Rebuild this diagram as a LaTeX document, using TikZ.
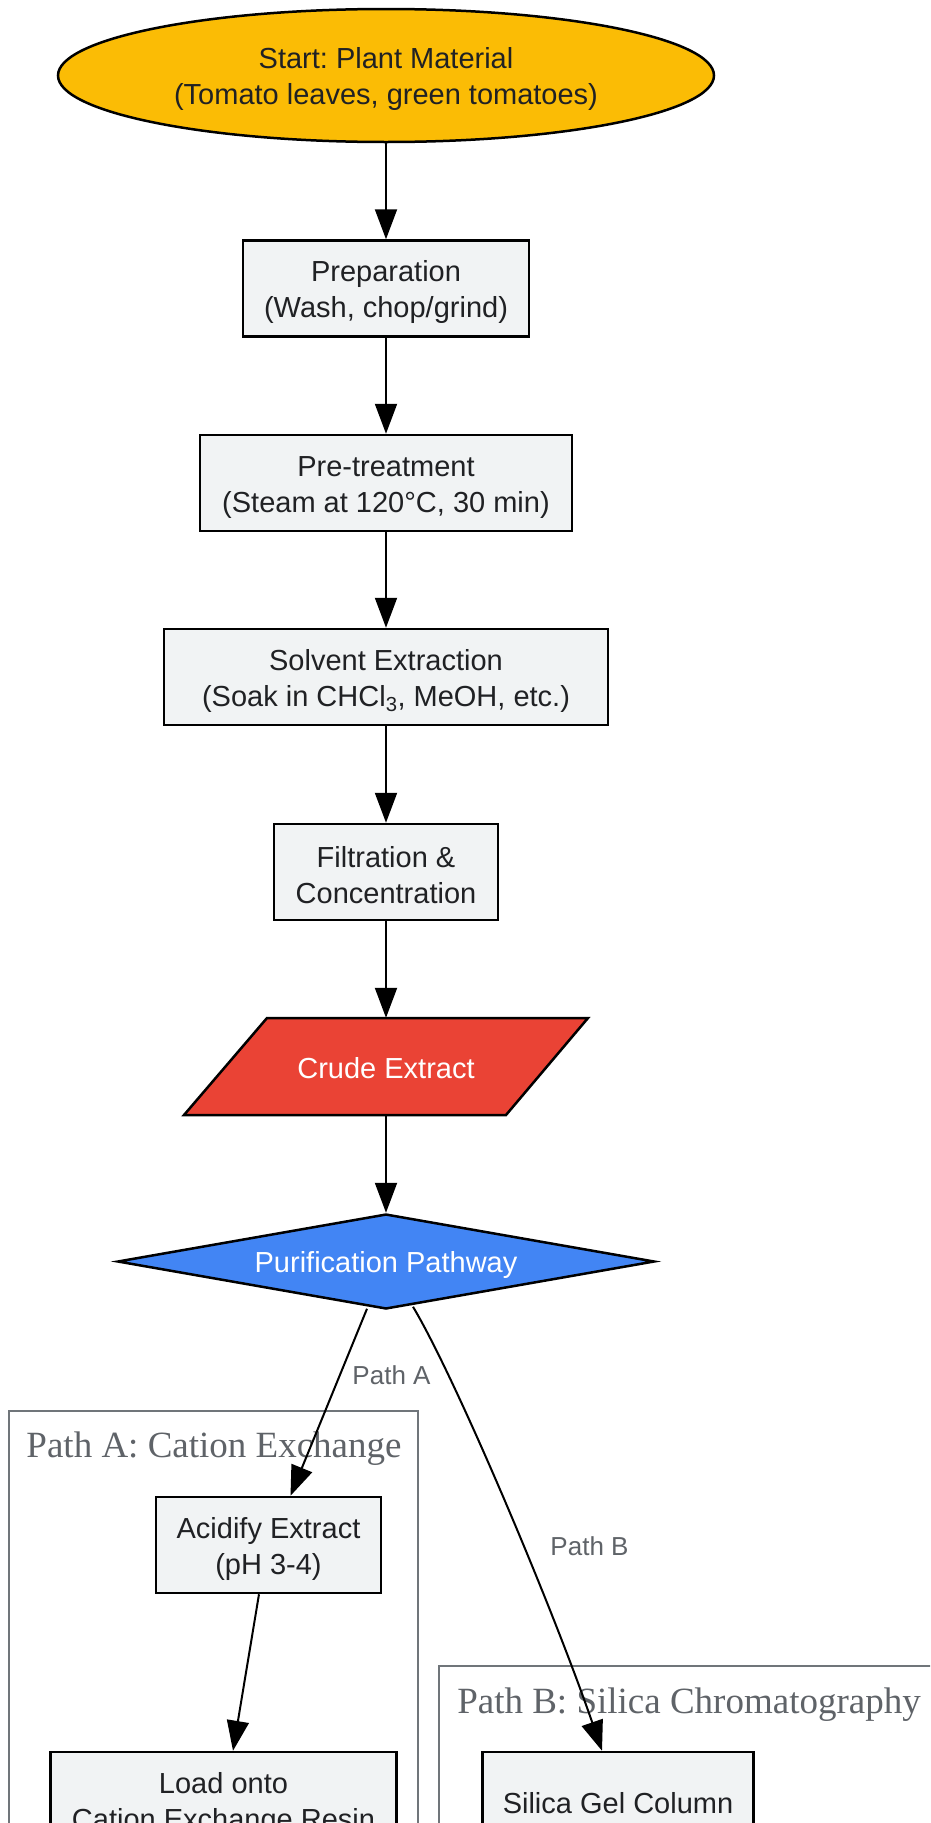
\documentclass[tikz,border=0pt]{standalone}
\usepackage{fontspec}
\setmainfont{Liberation Sans}
\newfontfamily\serifA{Liberation Serif}
\usetikzlibrary{shapes.geometric,arrows.meta,calc}
\definecolor{nodefill}{HTML}{F1F3F4}
\definecolor{txt}{HTML}{202124}
\definecolor{yel}{HTML}{FBBC05}
\definecolor{redc}{HTML}{EA4335}
\definecolor{bluec}{HTML}{4285F4}
\definecolor{lab}{HTML}{5F6368}
\definecolor{clus}{HTML}{70757A}
\frenchspacing
\newcommand{\topstrutA}{\rule{0pt}{28pt}}
\begin{document}
\begin{tikzpicture}[x=1pt,y=-1pt,
  nfont/.style={font=\fontsize{29}{36}\selectfont\frenchspacing},
  box/.style={rectangle, draw=black, line width=2.5pt, fill=nodefill, text=txt, align=center, nfont, minimum height=96pt, inner sep=0pt},
  arr/.style={line width=2pt, -{Triangle[length=30pt,width=22pt]}},
  elab/.style={text=lab, font=\fontsize{26}{30}\selectfont},
  clab/.style={text=lab, font=\serifA\fontsize{37}{40}\selectfont\frenchspacing},
  cluster/.style={draw=clus, line width=2pt, fill=white}]
\useasboundingbox (0,0) rectangle (930,1823);
\clip (0,0) rectangle (930,1823);
\fill[white] (0,0) rectangle (930,1823);

% clusters
\draw[cluster] (9,1411) rectangle (418,1900);
\draw[cluster] (439,1666) rectangle (960,1900);
\node[clab] (labA) at (214,1449) {Path A: Cation Exchange};
\node[clab] (labB) at (689,1704.5) {Path B: Silica Chromatography};

% main chain
\node[ellipse, draw=black, line width=2.5pt, fill=yel, text=txt, align=center, nfont,
      minimum width=656pt, minimum height=133pt, inner sep=0pt] (start) at (386,75.5)
      {\topstrutA Start: Plant Material\\(Tomato leaves, green tomatoes)};
\node[box, minimum width=286pt] (prep) at (386,288.5) {\topstrutA Preparation\\(Wash, chop/grind)};
\node[box, minimum width=372pt] (pre) at (386,483) {\topstrutA Pre-treatment\\(Steam at 120°C, 30 min)};
\node[box, minimum width=444pt] (solv) at (386,677) {\topstrutA Solvent Extraction\\(Soak in CHCl\textsubscript{3}, MeOH, etc.)};
\node[box, minimum width=224pt] (filt) at (386,872) {\topstrutA Filtration \&\\Concentration};

\filldraw[fill=redc, draw=black, line width=2.5pt, line join=miter]
  (267,1018) -- (588,1018) -- (506,1115) -- (184,1115) -- cycle;
\node[text=white, nfont, minimum width=322pt, minimum height=97pt, inner sep=0pt] (crude) at (386,1066.5) {\rule{0pt}{24pt}Crude Extract};

\node[diamond, draw=black, line width=2.5pt, fill=bluec, text=white, nfont, shape aspect=5.65,
      minimum width=537pt, minimum height=95pt, inner sep=0pt] (dec) at (386,1261.5) {\topstrutA Purification Pathway};

% branch nodes
\node[box, minimum width=225pt] (acid) at (268.5,1545) {\topstrutA Acidify Extract\\(pH 3-4)};
\node[box, minimum width=346pt] (load) at (223.5,1800) {\topstrutA Load onto\\Cation Exchange Resin};
\node[box, minimum width=271pt] (sil) at (618,1800) {\topstrutA Silica Gel Column};

% edges
\draw[arr] (start) -- (prep);
\draw[arr] (prep) -- (pre);
\draw[arr] (pre) -- (solv);
\draw[arr] (solv) -- (filt);
\draw[arr] (filt) -- (crude);
\draw[arr] (crude) -- (dec);
\draw[arr] ([xshift=-19pt,yshift=1.5pt]dec.south) -- ([xshift=22pt]acid.north);
\draw[arr] ([xshift=27pt,yshift=3.5pt]dec.south) .. controls +(42,70) and +(-50,-145) .. ([xshift=-16pt]sil.north);
\draw[arr] ([xshift=-9.5pt]acid.south) -- ([xshift=9.5pt]load.north);

\node[elab] (la) at (391.5,1375) {Path A};
\node[elab] (lb) at (589.5,1546.5) {Path B};
\end{tikzpicture}
\end{document}
